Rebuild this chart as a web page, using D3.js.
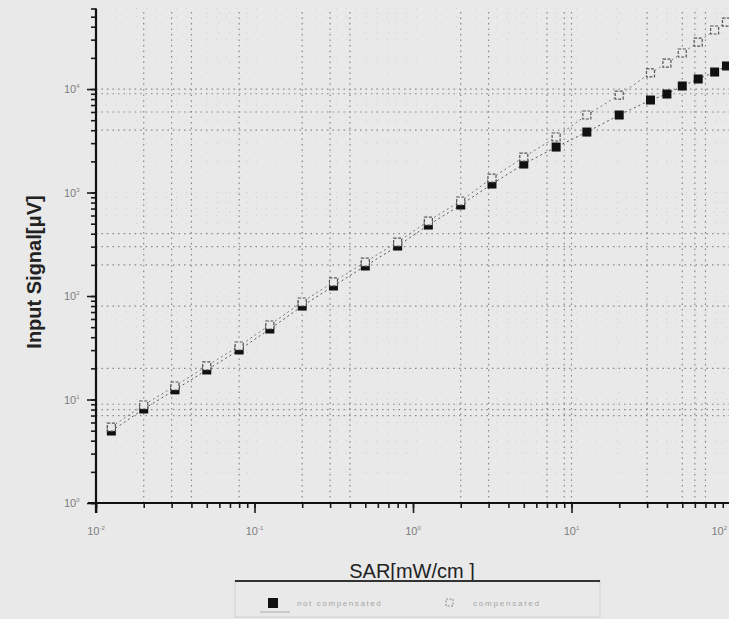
<!DOCTYPE html>
<html>
<head>
<meta charset="utf-8">
<script src="https://cdn.jsdelivr.net/npm/d3@7/dist/d3.min.js"></script>
<style>
  html, body { margin: 0; padding: 0; background: #e9e9e9; }
  svg { display: block; }
</style>
</head>
<body>
<svg id="chart" width="729" height="619"></svg>
<script>
// ---- data ----
const sar = [0.0125, 0.02, 0.0315, 0.05, 0.08, 0.125, 0.2, 0.315, 0.5, 0.8, 1.25, 2, 3.15, 5, 8, 12.5, 20, 31.5, 40, 50, 63, 80, 95];
const uncompensated = [4.96, 8.1, 12.4, 19.3, 30.1, 48, 80, 125, 195, 304, 485, 757, 1208, 1885, 2750, 3840, 5610, 7830, 8950, 10700, 12500, 14600, 16700];
const compensated = [5.42, 8.85, 13.5, 21.1, 32.9, 52.5, 87.5, 137, 213, 332, 530, 828, 1380, 2200, 3440, 5610, 8750, 14300, 17800, 22300, 28400, 37200, 44400];

const xDecades = [0.01, 0.1, 1, 10, 100];
const xDecadeExp = ["-2", "-1", "0", "1", "2"];
const yDecades = [1, 10, 100, 1000, 10000];
const yDecadeExp = ["0", "1", "2", "3", "4"];

const gridXValues = [0.02, 0.03, 0.04, 0.08, 0.2, 0.3, 0.4, 2, 3, 7, 9, 10, 30, 50, 60, 70];
const gridYValues = [10000, 9000, 6000, 4000, 400, 300, 200, 80, 20, 9, 8, 7];

const xTitle = "SAR[mW/cm ]";
const yTitle = "Input Signal[\u03BCV]";
const legendLabels = ["not compensated", "compensated"];

// ---- drawing ----
const svg = d3.select("#chart");
const x = d3.scaleLog().domain([0.01, 100]).range([96, 730]);
const y = d3.scaleLog().domain([1, 60000]).range([503, 8.5]);

const x0 = x.range()[0], x1 = 729;
const yBottom = y.range()[0], yTop = y.range()[1];

// faint minor grid
const minorX = x.ticks();
const minorY = y.ticks();
svg.append("g").selectAll("line").data(minorX).join("line")
  .attr("x1", d => x(d)).attr("x2", d => x(d))
  .attr("y1", yBottom).attr("y2", yTop)
  .attr("stroke", "#d2d2d2").attr("stroke-width", 1)
  .attr("stroke-dasharray", "1,9");
svg.append("g").selectAll("line").data(minorY).join("line")
  .attr("y1", d => y(d)).attr("y2", d => y(d))
  .attr("x1", x0).attr("x2", x1)
  .attr("stroke", "#d2d2d2").attr("stroke-width", 1)
  .attr("stroke-dasharray", "1,9");

// prominent dotted grid
svg.append("g").selectAll("line").data(gridXValues).join("line")
  .attr("x1", d => x(d)).attr("x2", d => x(d))
  .attr("y1", yBottom).attr("y2", yTop)
  .attr("stroke", "#8a8a8a").attr("stroke-width", 1.2)
  .attr("stroke-dasharray", "1.5,4");
svg.append("g").selectAll("line").data(gridYValues).join("line")
  .attr("y1", d => y(d)).attr("y2", d => y(d))
  .attr("x1", x0).attr("x2", x1)
  .attr("stroke", "#8a8a8a").attr("stroke-width", 1.2)
  .attr("stroke-dasharray", "1.5,4");

// axes
const xAxisMinor = d3.axisBottom(x).tickValues(minorX).tickSize(5).tickFormat("");
const xAxisMajor = d3.axisBottom(x).tickValues(xDecades).tickSize(10).tickFormat("");
const yAxisMinor = d3.axisLeft(y).tickValues(minorY.filter(v => v <= 60000)).tickSize(5).tickFormat("");
const yAxisMajor = d3.axisLeft(y).tickValues(yDecades).tickSize(9).tickFormat("");

function styleAxis(g) {
  g.select(".domain").remove();
  g.selectAll(".tick line").attr("stroke", "#1a1a1a").attr("stroke-width", 1.6);
}
svg.append("g").attr("transform", `translate(0,${yBottom})`).call(xAxisMinor).call(styleAxis);
svg.append("g").attr("transform", `translate(0,${yBottom})`).call(xAxisMajor).call(styleAxis);
svg.append("g").attr("transform", `translate(${x0},0)`).call(yAxisMinor).call(styleAxis);
svg.append("g").attr("transform", `translate(${x0},0)`).call(yAxisMajor).call(styleAxis);

// axis lines
svg.append("line").attr("x1", 88).attr("x2", x1).attr("y1", yBottom).attr("y2", yBottom)
  .attr("stroke", "#111").attr("stroke-width", 2.2);
svg.append("line").attr("x1", x0).attr("x2", x0).attr("y1", yTop).attr("y2", 513)
  .attr("stroke", "#111").attr("stroke-width", 2.2);

// tick labels
const xl = svg.append("g").attr("font-family", "Liberation Sans, Arial, sans-serif").attr("fill", "#7d7d7d");
xDecades.forEach((d, i) => {
  const last = i === xDecades.length - 1;
  const t = xl.append("text").attr("x", last ? 727 : x(d)).attr("y", 535)
    .attr("text-anchor", last ? "end" : "middle").attr("font-size", 11);
  t.append("tspan").text("10");
  t.append("tspan").attr("dy", -5).attr("font-size", 6).text(xDecadeExp[i]);
});
yDecades.forEach((d, i) => {
  const t = xl.append("text").attr("x", 64).attr("y", y(d) + 4).attr("text-anchor", "start").attr("font-size", 11);
  t.append("tspan").text("10");
  t.append("tspan").attr("dy", -5).attr("font-size", 6).text(yDecadeExp[i]);
});

// axis titles
svg.append("text").attr("x", 412).attr("y", 578).attr("text-anchor", "middle")
  .attr("font-family", "Liberation Sans, Arial, sans-serif").attr("font-size", 20)
  .attr("fill", "#222").text(xTitle);
svg.append("text").attr("transform", `translate(41,272) rotate(-90)`).attr("text-anchor", "middle")
  .attr("font-family", "Liberation Sans, Arial, sans-serif").attr("font-size", 20).attr("font-weight", "bold")
  .attr("fill", "#222").text(yTitle);

// connecting dashed lines
const lineGen = vals => d3.line().x((d, i) => x(sar[i])).y(d => y(d))(vals);
svg.append("path").attr("d", lineGen(uncompensated)).attr("fill", "none")
  .attr("stroke", "#555").attr("stroke-width", 1).attr("stroke-dasharray", "2,3");
svg.append("path").attr("d", lineGen(compensated)).attr("fill", "none")
  .attr("stroke", "#777").attr("stroke-width", 1).attr("stroke-dasharray", "2,3");

// markers
const s = 9;
svg.append("g").selectAll("rect").data(uncompensated).join("rect")
  .attr("x", (d, i) => x(sar[i]) - s / 2).attr("y", d => y(d) - s / 2)
  .attr("width", s).attr("height", s).attr("fill", "#111");
const so = 8;
svg.append("g").selectAll("rect").data(compensated).join("rect")
  .attr("x", (d, i) => x(sar[i]) - so / 2).attr("y", d => y(d) - so / 2)
  .attr("width", so).attr("height", so)
  .attr("fill", "#e9e9e9").attr("stroke", "#555").attr("stroke-width", 1.2)
  .attr("stroke-dasharray", "3,1.5");

// legend
const lg = svg.append("g");
lg.append("rect").attr("x", 235).attr("y", 581).attr("width", 365).attr("height", 36)
  .attr("fill", "none").attr("stroke", "#cfcfcf").attr("stroke-width", 1);
lg.append("line").attr("x1", 235).attr("x2", 600).attr("y1", 581).attr("y2", 581)
  .attr("stroke", "#333").attr("stroke-width", 2);
lg.append("rect").attr("x", 268).attr("y", 598).attr("width", 10).attr("height", 10).attr("fill", "#111");
lg.append("line").attr("x1", 260).attr("x2", 290).attr("y1", 612).attr("y2", 612)
  .attr("stroke", "#aaa").attr("stroke-width", 1);
lg.append("rect").attr("x", 446).attr("y", 599).attr("width", 7).attr("height", 7)
  .attr("fill", "none").attr("stroke", "#888").attr("stroke-width", 1).attr("stroke-dasharray", "2,1.5");
lg.append("text").attr("x", 297).attr("y", 606).attr("font-family", "Liberation Sans, Arial, sans-serif")
  .attr("font-size", 8).attr("fill", "#a5a5a5").attr("letter-spacing", 1.6).text(legendLabels[0]);
lg.append("text").attr("x", 473).attr("y", 606).attr("font-family", "Liberation Sans, Arial, sans-serif")
  .attr("font-size", 8).attr("fill", "#a5a5a5").attr("letter-spacing", 1.8).text(legendLabels[1]);
</script>
</body>
</html>
